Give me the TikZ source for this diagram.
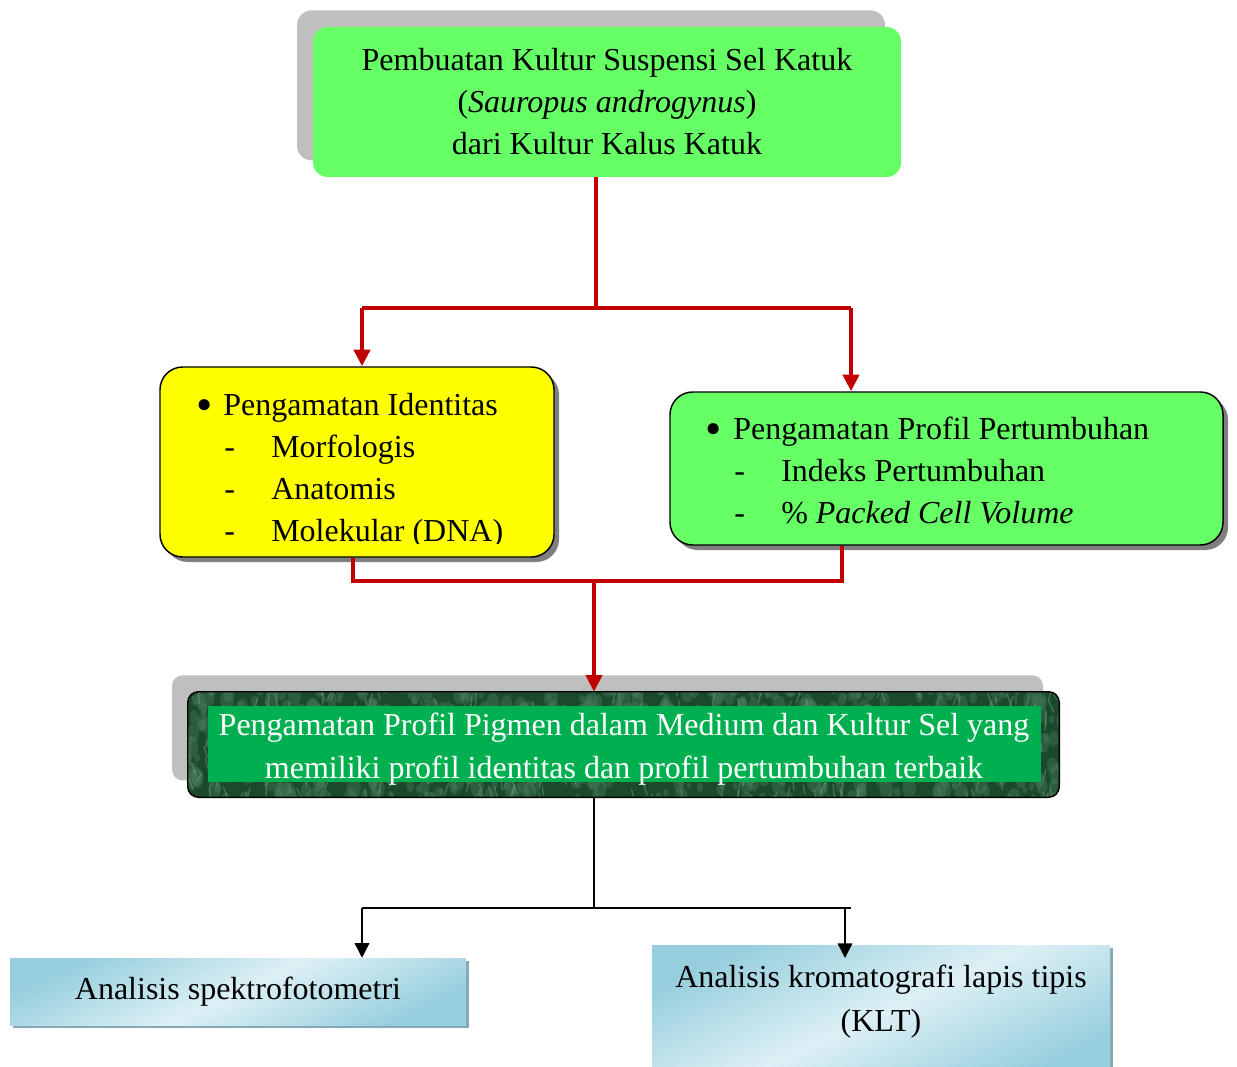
\documentclass[tikz,border=0pt]{standalone}
\usepackage{fontspec}
\usepackage{graphicx}
\setmainfont{Liberation Serif}
\usetikzlibrary{calc,shadows,arrows.meta}
\definecolor{lgreen}{HTML}{66FF66}
\definecolor{lyellow}{HTML}{FFFF00}
\definecolor{flowred}{HTML}{C00000}
\definecolor{ltshadow}{HTML}{BFBFBF}
\definecolor{dkshadow}{HTML}{7F7F7F}
\definecolor{mossdark}{HTML}{1A4A2B}
\definecolor{mossmid}{HTML}{4F8463}
\definecolor{mosslight}{HTML}{8DB89B}
\definecolor{pgreen}{HTML}{00B050}
\definecolor{bluedge}{HTML}{96CEDD}
\definecolor{blumid}{HTML}{DDF0F5}
\definecolor{blushadow}{HTML}{86A9B8}
\newcommand{\bigbul}{\raisebox{-0.16em}{\scalebox{1.45}{•}}}

\begin{document}
\begin{tikzpicture}
		[x=0.75pt,y=-0.75pt,auto=left]
			\tikzstyle{every node}=[inner sep=0pt, font=\fontsize{24}{31.5}\selectfont]
			\tikzstyle{greybehind}=[general shadow={shadow xshift=-12pt, shadow yshift=12.5pt, fill=ltshadow}]
			\tikzstyle{listbox}=[rectangle, draw=black, line width=1.1pt, rounded corners=17pt,
			drop shadow={shadow xshift=3.75pt, shadow yshift=-3.75pt, fill=dkshadow, opacity=1}]
			\tikzstyle{blubox}=[rectangle, top color=bluedge, bottom color=bluedge, middle color=blumid,
			shading angle=25, drop shadow={shadow xshift=2.25pt, shadow yshift=-2.25pt, fill=blushadow, opacity=1}]
			\tikzstyle{blotch}=[mossmid, opacity=0.35]
			\tikzstyle{streak}=[mosslight, opacity=0.35, line width=1pt]
			\tikzstyle{redline}=[flowred, line width=3.5pt]
			\tikzstyle{redarr}=[redline, -{Triangle[length=12.5pt,width=12pt]}]
			\tikzstyle{blkline}=[black, line width=1.2pt]
			\tikzstyle{blkarr}=[blkline, -{Triangle[length=11pt,width=11pt]}]
		\useasboundingbox (0,0) rectangle (1237,1066);
		%-----kultur
		 \node[greybehind, rectangle, fill=lgreen, rounded corners=11pt, minimum width=441pt,
		 minimum height=112.5pt, align=center] (kultur) at (607,102)
		 {Pembuatan Kultur Suspensi Sel Katuk\\(\textit{Sauropus androgynus})\\dari Kultur Kalus Katuk};
		%-----pengamatan
		 \node[listbox, fill=lyellow, minimum width=295.5pt, minimum height=142.5pt] (ident) at (357,462) {};
		 \node[listbox, fill=lgreen, minimum width=414.75pt, minimum height=114.75pt] (growth) at (946.5,468.5) {};
		 \node[anchor=base west] (idB) at (196,415) {\bigbul};
		 \node[anchor=base west] (idH) at (223,415) {Pengamatan Identitas};
		 \node[anchor=base west] (morD) at (224,457) {-};
		 \node[anchor=base west] (mor) at (271,457) {Morfologis};
		 \node[anchor=base west] (anaD) at (224,499) {-};
		 \node[anchor=base west] (ana) at (271,499) {Anatomis};
		 \node[anchor=base west] (molD) at (224,541) {-};
		 \begin{scope}
		 \clip (160,367) rectangle (554,543);
		 \node[anchor=base west] (mol) at (271,541) {Molekular (DNA)};
		 \end{scope}
		 \node[anchor=base west] (grB) at (705,439) {\bigbul};
		 \node[anchor=base west] (grH) at (733,439) {Pengamatan Profil Pertumbuhan};
		 \node[anchor=base west] (idxD) at (734,481) {-};
		 \node[anchor=base west] (idx) at (781,481) {Indeks Pertumbuhan};
		 \node[anchor=base west] (pcvD) at (734,523) {-};
		 \node[anchor=base west] (pcv) at (781,523) {\% \textit{Packed Cell Volume}};
		%-----pigmen
		 \node[greybehind, rectangle, fill=mossdark, rounded corners=8pt, minimum width=653.25pt,
		 minimum height=78.75pt] (pigmen) at (623.5,744.5) {};
		 \begin{scope}
		 \clip[rounded corners=8pt] (pigmen.north west) rectangle (pigmen.south east);
		 \pgfmathsetseed{11}
		 \foreach \i in {1,...,700}{
		 \pgfmathsetmacro{\rx}{180+885*rnd}
		 \pgfmathsetmacro{\ry}{685+120*rnd}
		 \pgfmathsetmacro{\rr}{2+5*rnd}
		 \fill[blotch] (\rx,\ry) ellipse ({\rr*0.75pt} and {1.6*\rr*0.75pt});
		 }
		 \foreach \i in {1,...,350}{
		 \pgfmathsetmacro{\rx}{180+885*rnd}
		 \pgfmathsetmacro{\ry}{685+120*rnd}
		 \draw[streak] (\rx,\ry) -- ++(5*rand,8+8*rnd);
		 }
		 \end{scope}
		 \draw[line width=1.1pt, rounded corners=8pt] (pigmen.north west) rectangle (pigmen.south east);
		 \node[rectangle, fill=pgreen, minimum width=624.75pt, minimum height=57pt] (pigT) at (624.5,744) {};
		 \node[text=white, align=center, font=\fontsize{24}{32.25}\selectfont] (pigTx) at (624,749.5)
		 {Pengamatan Profil Pigmen dalam Medium dan Kultur Sel yang\\memiliki profil identitas dan profil pertumbuhan terbaik};
		%-----analisis
		 \node[blubox, minimum width=342pt, minimum height=50.25pt] (spektro) at (238,991.5) {Analisis spektrofotometri};
		 \node[blubox, minimum width=343.5pt, minimum height=101.25pt] (klt) at (881,1012.5) {};
		 \node[align=center, font=\fontsize{24}{33}\selectfont] (kltT) at (881,1002) {Analisis kromatografi lapis tipis\\(KLT)};

		 \coordinate (j1) at (596,308);
		 \coordinate (lA) at (362,308);
		 \coordinate (rA) at (851,308);
		 \coordinate (kL) at (353,581);
		 \coordinate (kR) at (842,581);
		 \coordinate (j2) at (594,581);
		 \coordinate (j3) at (594,908);
		 \coordinate (bL) at (362,908);
		 \coordinate (bR) at (851,908);
		 \coordinate (bA) at (845,908);
		 \coordinate (tA) at (845,958);

		  \draw[redline] (kultur.south -| j1) -- (j1);
		  \draw[redline] (lA) -- (rA);
		  \draw[redarr] (lA) -- (ident.north -| lA);
		  \draw[redarr] (rA) -- (growth.north -| rA);
		  \draw[redline] (ident.south -| kL) -- (kL) -- (kR) -- (growth.south -| kR);
		  \draw[redarr] (j2) -- (pigmen.north -| j2);

		  \draw[blkline] (pigmen.south -| j3) -- (j3);
		  \draw[blkline] (bL) -- (bR);
		 \foreach \from/\to in {bL/spektro.north -| bL, bA/tA}
		 \draw[blkarr] (\from) -- (\to);

		\end{tikzpicture}
\end{document}
